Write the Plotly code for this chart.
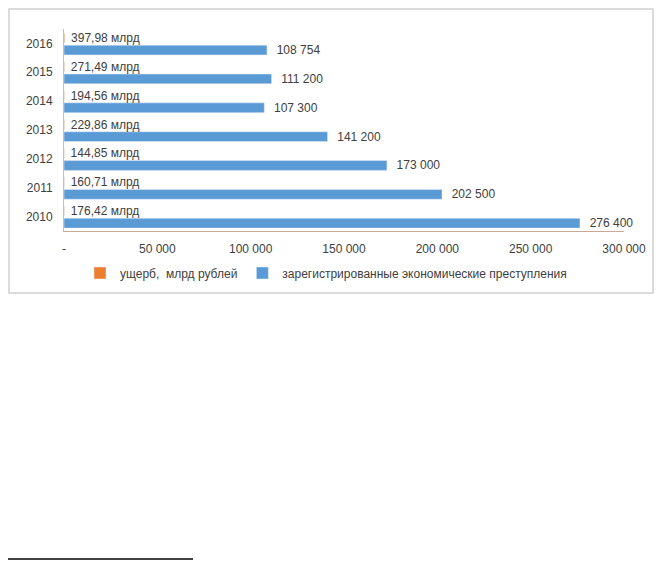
import plotly.graph_objects as go

# data
years = ["2010", "2011", "2012", "2013", "2014", "2015", "2016"]
damage_bln = [176.42, 160.71, 144.85, 229.86, 194.56, 271.49, 397.98]
crimes = [276400, 202500, 173000, 141200, 107300, 111200, 108754]
tick_vals = [0, 50000, 100000, 150000, 200000, 250000, 300000]
tick_text = ["-", "50 000", "100 000", "150 000", "200 000", "250 000", "300 000"]

# the page body has an 8px margin all round; keep the figure inside the window
OFF = 8
W, H = 662 - 2 * OFF, 569 - 2 * OFF
L, T = 64 - OFF, 29 - OFF
R = W - (624 - OFF)
B = H - (231 - OFF)
pw, ph = W - L - R, H - T - B

def px_x(x):
    # screen pixel -> paper fraction
    return (x - OFF - L) / pw

def px_y(y):
    return (H - B - (y - OFF)) / ph

font = dict(family="Liberation Sans, Arial, sans-serif", size=12, color="#404040")
nb = "\u00a0"

fig = go.Figure()
fig.add_trace(go.Bar(
    y=years, x=crimes, orientation="h",
    name="зарегистрированные экономические преступления",
    marker_color="#5B9BD5", legendrank=2, width=0.34, offset=-0.40,
    texttemplate=nb * 2 + "%{x:,}", textposition="outside", cliponaxis=False,
    constraintext="none", textfont=font,
))
fig.add_trace(go.Bar(
    y=years, x=damage_bln, orientation="h",
    name="ущерб,  млрд рублей",
    marker_color="#ED7D31", legendrank=1, width=0.34, offset=0.02,
    texttemplate=nb + "%{x:,.2f} млрд", textposition="outside", cliponaxis=False,
    constraintext="none", textfont=font,
))

fig.update_layout(
    width=W, height=H,
    margin=dict(l=L, r=R, t=T, b=B),
    paper_bgcolor="white", plot_bgcolor="white",
    barmode="overlay",
    separators=", ",
    font=font,
    showlegend=True,
    legend=dict(orientation="h", x=px_x(326), xanchor="center", y=px_y(273),
                yanchor="middle", font=font, itemwidth=30,
                bgcolor="rgba(0,0,0,0)"),
    xaxis=dict(range=[0, 300000], tickvals=tick_vals, ticktext=tick_text,
               showgrid=False, zeroline=False, showline=True,
               linecolor="#C8A898", linewidth=1, ticks="", ticklabelstandoff=7,
               automargin=False),
    yaxis=dict(type="category", showgrid=False, showline=True,
               linecolor="#C0C0C0", linewidth=1, ticks="", ticklabelstandoff=8,
               automargin=False),
    shapes=[
        dict(type="rect", xref="paper", yref="paper",
             x0=px_x(9), x1=px_x(653), y0=px_y(293), y1=px_y(9),
             line=dict(color="#D0D0D0", width=1.5)),
        dict(type="line", xref="paper", yref="paper",
             x0=px_x(8), x1=px_x(193), y0=px_y(559), y1=px_y(559),
             line=dict(color="black", width=1.5)),
    ],
)

fig.write_html("out.html")
